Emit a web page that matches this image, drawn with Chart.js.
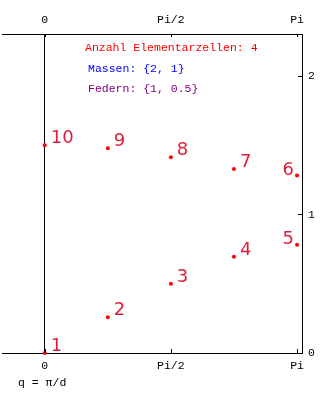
<!DOCTYPE html>
<html>
<head>
<meta charset="utf-8">
<script src="https://cdn.jsdelivr.net/npm/chart.js@4.4.1/dist/chart.umd.min.js"></script>
<style>
  body { margin: 0; background: #fff; }
  canvas { display: block; }
</style>
</head>
<body>
<canvas id="dispersion" width="329" height="402"></canvas>
<script>
// q in units of pi, omega
const qValues = [0, 0.25, 0.5, 0.75, 1];
const acoustic = [0, 0.258, 0.5, 0.695, 0.781];
const optical = [1.5, 1.478, 1.414, 1.329, 1.281];
const acousticLabels = ['1', '2', '3', '4', '5'];
const opticalLabels = ['10', '9', '8', '7', '6'];

const xTicks = [0, 0.5, 1];
const xTickLabels = ['0', 'Pi/2', 'Pi'];
const yTicks = [0, 1, 2];

const infoLines = ['Anzahl Elementarzellen: 4', 'Massen: {2, 1}', 'Federn: {1, 0.5}'];
const infoColors = ['#ff0000', '#0000ff', '#800080'];
const xTitle = 'q = \u03c0/d';

const monoFont = { family: 'Liberation Mono', size: 11.5 };

const toPoints = (ys) => qValues.map((q, i) => ({ x: q, y: ys[i] }));

function fixedTicks(values) {
    return scale => {
        scale.ticks = values.map(v => ({ value: v }));
    };
}

const decorations = {
    id: 'decorations',
    afterDraw(chart) {
        const c = chart.ctx;
        const area = chart.chartArea;
        const xs = chart.scales.x;
        const ys = chart.scales.y;

        c.save();
        c.strokeStyle = '#000';
        c.lineWidth = 1;
        c.beginPath();
        // inner tick marks
        xTicks.forEach(v => {
            const px = Math.round(xs.getPixelForValue(v)) + 0.5;
            c.moveTo(px, area.top);
            c.lineTo(px, area.top + 3);
            c.moveTo(px, area.bottom);
            c.lineTo(px, area.bottom - 4);
        });
        yTicks.forEach(v => {
            const py = Math.round(ys.getPixelForValue(v)) + 0.5;
            c.moveTo(area.right, py);
            c.lineTo(area.right - 4, py);
        });
        c.stroke();

        // info text
        c.font = '11.5px "Liberation Mono"';
        c.textBaseline = 'alphabetic';
        c.textAlign = 'left';
        const infoX = [85, 88, 88];
        const infoY = [51, 72, 92];
        infoLines.forEach((t, i) => {
            c.fillStyle = infoColors[i];
            c.fillText(t, infoX[i], infoY[i]);
        });

        c.fillStyle = '#000';
        c.fillText(xTitle, 18, 386);
        c.restore();
    },
    afterDatasetsDraw(chart) {
        const c = chart.ctx;
        c.save();
        c.font = '18px "DejaVu Sans"';
        c.fillStyle = '#dc1e3c';
        c.textBaseline = 'alphabetic';
        chart.data.datasets.forEach((ds, di) => {
            const meta = chart.getDatasetMeta(di);
            meta.data.forEach((pt, i) => {
                const label = ds.pointLabels[i];
                if (ds.data[i].x >= 1) {
                    c.textAlign = 'right';
                    c.fillText(label, pt.x - 3, pt.y - 1);
                } else {
                    c.textAlign = 'left';
                    c.fillText(label, pt.x + 6, pt.y - 2);
                }
            });
        });
        c.restore();
    }
};

new Chart(document.getElementById('dispersion'), {
    type: 'scatter',
    data: {
        datasets: [
            { data: toPoints(acoustic), pointLabels: acousticLabels, clip: false },
            { data: toPoints(optical), pointLabels: opticalLabels, clip: false }
        ]
    },
    options: {
        responsive: false,
        animation: false,
        layout: { padding: 0 },
        elements: {
            point: { radius: 2, borderWidth: 0, backgroundColor: '#ff0000', hoverRadius: 2 }
        },
        plugins: {
            legend: { display: false },
            tooltip: { enabled: false }
        },
        scales: {
            x: {
                type: 'linear',
                position: 'bottom',
                min: -0.1693,
                max: 1.0197,
                afterBuildTicks: fixedTicks(xTicks),
                afterFit: s => { s.height = 49; s.paddingLeft = 0; s.paddingRight = 0; },
                ticks: {
                    font: monoFont,
                    color: '#000',
                    padding: 6,
                    maxRotation: 0,
                    callback: v => xTickLabels[xTicks.indexOf(v)]
                },
                grid: {
                    drawTicks: false,
                    color: ctx => (ctx.tick && ctx.tick.value === 0 ? '#000' : 'rgba(0,0,0,0)')
                },
                border: { display: true, color: '#000', width: 1 }
            },
            x2: {
                type: 'linear',
                position: 'top',
                min: -0.1693,
                max: 1.0197,
                afterBuildTicks: fixedTicks(xTicks),
                afterFit: s => { s.height = 34; s.paddingLeft = 0; s.paddingRight = 0; },
                ticks: {
                    font: monoFont,
                    color: '#000',
                    padding: 7,
                    maxRotation: 0,
                    callback: v => xTickLabels[xTicks.indexOf(v)]
                },
                grid: { drawTicks: false, drawOnChartArea: false },
                border: { display: true, color: '#000', width: 1 }
            },
            y: {
                type: 'linear',
                position: 'right',
                min: 0,
                max: 2.303,
                afterBuildTicks: fixedTicks(yTicks),
                afterFit: s => { s.width = 27; s.paddingTop = 0; s.paddingBottom = 0; },
                ticks: {
                    font: monoFont,
                    color: '#000',
                    padding: 6,
                    callback: v => String(v)
                },
                grid: { drawTicks: false, drawOnChartArea: false },
                border: { display: true, color: '#000', width: 1 }
            }
        }
    },
    plugins: [decorations]
});
</script>
</body>
</html>
